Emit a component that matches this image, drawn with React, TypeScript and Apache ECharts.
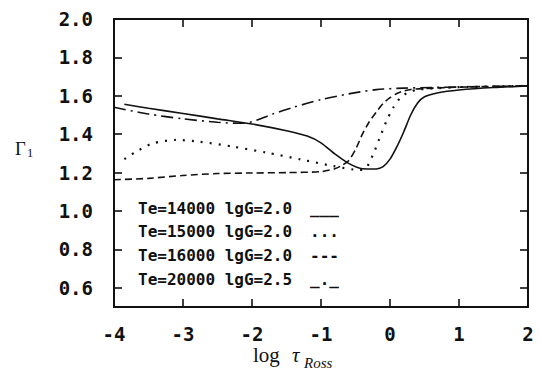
import React, { useEffect, useRef } from "react";
import * as echarts from "echarts";

// ---- data ----
const seriesNames = [
  "Te=14000 lgG=2.0",
  "Te=15000 lgG=2.0",
  "Te=16000 lgG=2.0",
  "Te=20000 lgG=2.5",
];
const legendSamples = ["___", "...", "---", "_._"];

const te14000: [number, number][] = [
  [-3.85, 1.556], [-3.5, 1.535], [-3.0, 1.508], [-2.5, 1.48], [-2.0, 1.453],
  [-1.5, 1.418], [-1.2, 1.39], [-1.0, 1.355], [-0.8, 1.297], [-0.6, 1.248],
  [-0.4, 1.22], [-0.2, 1.219], [-0.1, 1.231], [0.0, 1.27], [0.1, 1.335],
  [0.2, 1.413], [0.3, 1.5], [0.4, 1.562], [0.5, 1.595], [0.7, 1.616],
  [1.0, 1.63], [1.5, 1.643], [2.0, 1.651],
];
const te15000: [number, number][] = [
  [-3.85, 1.27], [-3.68, 1.309], [-3.44, 1.352], [-3.1, 1.37], [-2.76, 1.361],
  [-2.27, 1.335], [-1.79, 1.304], [-1.3, 1.269], [-0.82, 1.234], [-0.45, 1.214],
  [-0.35, 1.222], [-0.25, 1.29], [-0.15, 1.38], [-0.05, 1.47], [0.05, 1.54],
  [0.15, 1.59], [0.25, 1.615], [0.4, 1.632], [0.7, 1.64], [1.0, 1.645],
  [1.5, 1.648], [2.0, 1.652],
];
const te16000: [number, number][] = [
  [-4.0, 1.163], [-3.5, 1.17], [-3.0, 1.185], [-2.5, 1.195], [-2.0, 1.198],
  [-1.5, 1.2], [-1.0, 1.205], [-0.8, 1.22], [-0.7, 1.237], [-0.6, 1.262],
  [-0.5, 1.32], [-0.4, 1.4], [-0.3, 1.465], [-0.2, 1.515], [-0.1, 1.56],
  [0.0, 1.59], [0.1, 1.612], [0.2, 1.625], [0.3, 1.633], [0.5, 1.638],
  [1.0, 1.645], [2.0, 1.652],
];
const te20000: [number, number][] = [
  [-4.0, 1.54], [-3.5, 1.505], [-3.0, 1.48], [-2.5, 1.462], [-2.2, 1.457],
  [-2.0, 1.465], [-1.7, 1.505], [-1.4, 1.54], [-1.0, 1.58], [-0.6, 1.61],
  [-0.2, 1.632], [0.2, 1.64], [0.6, 1.643], [1.0, 1.646], [2.0, 1.652],
];

const yTickValues = [0.6, 0.8, 1.0, 1.2, 1.4, 1.6, 1.8, 2.0];
const xAxisTitle = ["log ", "τ", "Ross"];
const yAxisTitle = ["Γ", "1"];

const INK = "#111";
const MONO = '"DejaVu Sans Mono", "Liberation Mono", monospace';
const SERIF = '"Liberation Serif", "DejaVu Serif", serif';

export default function App() {
  const ref = useRef<HTMLDivElement>(null);

  useEffect(() => {
    if (!ref.current) return;
    const chart = echarts.init(ref.current, undefined, { renderer: "svg" });

    const lineStyles = [
      { type: "solid", width: 1.6 },
      { type: [2, 7], width: 2.2 },
      { type: [7, 4], width: 1.6 },
      { type: [12, 5, 2, 5], width: 1.6 },
    ];
    const allData = [te14000, te15000, te16000, te20000];

    const tickCommon = {
      inside: true,
      length: 8,
      lineStyle: { color: INK, width: 1.6 },
    };
    const axisLineCommon = {
      show: true,
      onZero: false,
      lineStyle: { color: INK, width: 2 },
    };

    const legendGraphics: any[] = [];
    seriesNames.forEach((name, i) => {
      const cy = 208 + i * 23.7;
      legendGraphics.push({
        type: "text",
        x: 138,
        y: cy,
        style: {
          text: name,
          font: `bold 16px ${MONO}`,
          fill: INK,
          align: "left",
          verticalAlign: "middle",
        },
      });
      legendGraphics.push({
        type: "text",
        x: 310,
        y: cy,
        style: {
          text: legendSamples[i],
          font: `bold 16px ${MONO}`,
          fill: INK,
          align: "left",
          verticalAlign: "middle",
        },
      });
    });

    chart.setOption({
      animation: false,
      backgroundColor: "#fff",
      grid: { left: 114, right: 12, top: 19, bottom: 64, containLabel: false },
      xAxis: [
        {
          type: "value",
          min: -4,
          max: 2,
          interval: 1,
          position: "bottom",
          axisLine: axisLineCommon,
          axisTick: tickCommon,
          splitLine: { show: false },
          axisLabel: {
            margin: 17,
            color: INK,
            fontFamily: MONO,
            fontWeight: "bold",
            fontSize: 19,
          },
        },
        {
          type: "value",
          min: -4,
          max: 2,
          interval: 1,
          position: "top",
          axisLine: axisLineCommon,
          axisTick: tickCommon,
          splitLine: { show: false },
          axisLabel: { show: false },
        },
      ],
      yAxis: [
        {
          type: "value",
          min: 0.5,
          max: 2.0,
          position: "left",
          axisLine: axisLineCommon,
          axisTick: { ...tickCommon, customValues: yTickValues },
          splitLine: { show: false },
          axisLabel: {
            customValues: yTickValues,
            formatter: (v: number) => v.toFixed(1),
            margin: 21,
            color: INK,
            fontFamily: MONO,
            fontWeight: "bold",
            fontSize: 19,
          },
        },
        {
          type: "value",
          min: 0.5,
          max: 2.0,
          position: "right",
          axisLine: axisLineCommon,
          axisTick: { ...tickCommon, customValues: yTickValues },
          splitLine: { show: false },
          axisLabel: { show: false },
        },
      ],
      series: seriesNames.map((name, i) => ({
        name,
        type: "line",
        xAxisIndex: 0,
        yAxisIndex: 0,
        data: allData[i],
        showSymbol: false,
        smooth: 0.25,
        lineStyle: { color: INK, ...lineStyles[i] },
      })),
      graphic: [
        ...legendGraphics,
        {
          type: "text",
          x: 15,
          y: 158,
          style: {
            text: yAxisTitle[0],
            font: `18.5px ${SERIF}`,
            fill: INK,
            align: "left",
            verticalAlign: "bottom",
          },
        },
        {
          type: "text",
          x: 27,
          y: 159,
          style: {
            text: yAxisTitle[1],
            font: `12.5px ${SERIF}`,
            fill: INK,
            align: "left",
            verticalAlign: "bottom",
          },
        },
        {
          type: "text",
          x: 253,
          y: 355,
          style: {
            text: xAxisTitle[0],
            font: `21px ${SERIF}`,
            fill: INK,
            align: "left",
            verticalAlign: "middle",
          },
        },
        {
          type: "text",
          x: 292,
          y: 355,
          style: {
            text: xAxisTitle[1],
            font: `italic 21px ${SERIF}`,
            fill: INK,
            align: "left",
            verticalAlign: "middle",
          },
        },
        {
          type: "text",
          x: 304,
          y: 362.5,
          style: {
            text: xAxisTitle[2],
            font: `italic 15px ${SERIF}`,
            fill: INK,
            align: "left",
            verticalAlign: "middle",
          },
        },
      ],
    });

    return () => chart.dispose();
  }, []);

  return (
    <div
      ref={ref}
      style={{ position: "absolute", left: 0, top: 0, width: 540, height: 371 }}
    />
  );
}
